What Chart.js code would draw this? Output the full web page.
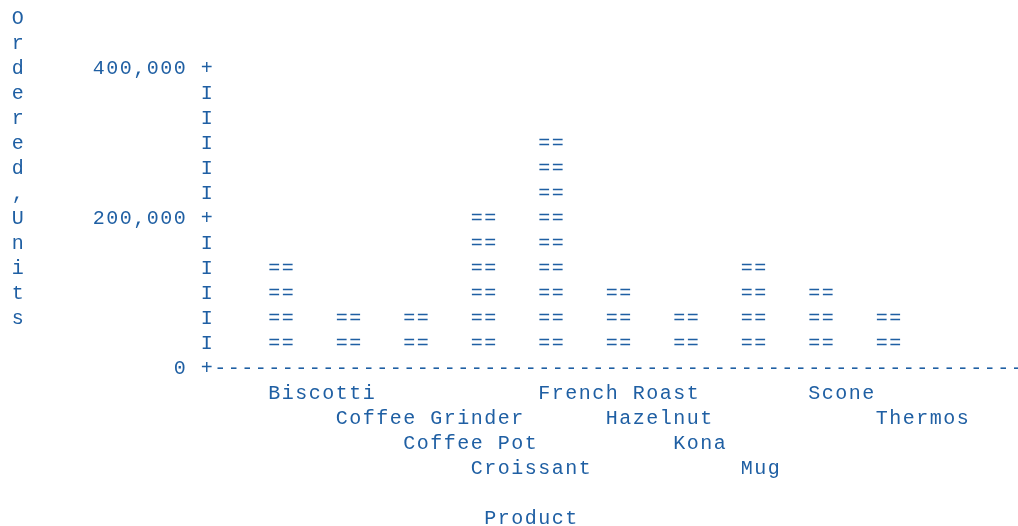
<!DOCTYPE html>
<html lang="en">
<head>
    <meta charset="UTF-8">
    <title>Ordered Units by Product</title>
    <style>
        html, body { margin: 0; padding: 0; background: #fff; }
    </style>
</head>
<body>
    <canvas id="myChart" width="1018" height="526"></canvas>

    <script src="https://cdn.jsdelivr.net/npm/chart.js"></script>
    <script>
        // data (one "==" row = 400,000 / 12)
        const v_products = ['Biscotti', 'Coffee Grinder', 'Coffee Pot', 'Croissant', 'French Roast',
                            'Hazelnut', 'Kona', 'Mug', 'Scone', 'Thermos'];
        const v_units = [130000, 66000, 64000, 198000, 297000, 101000, 67000, 132000, 99000, 65000];
        const v_yTicks = [0, 200000, 400000];
        const v_yTitle = 'Ordered,Units';
        const v_xTitle = 'Product';

        // text grid of the line-printer look
        const CW = 13.5;   // char width
        const ROW = 25;    // line height
        const X0 = 11;     // left edge of column 0
        const COLOR = '#1f5fa3';
        const FONT = '20px "Liberation Mono", "Courier New", monospace';
        const Y_MAX = 400000;
        const N_ROWS = 12;

        function f_col(c) { return X0 + c * CW; }

        // draws string char by char, left edge at x, row centre at y
        function f_text(ctx, s, x, y) {
            for (let i = 0; i < s.length; i++) {
                ctx.fillText(s[i], x + i * CW + CW / 2, y + 6.5);
            }
        }

        const asciiPlugin = {
            id: 'ascii',
            afterDatasetsDraw(chart) {
                const ctx = chart.ctx;
                const xs = chart.scales.x;
                const ys = chart.scales.y;
                ctx.save();
                ctx.fillStyle = COLOR;
                ctx.font = FONT;
                ctx.textAlign = 'center';
                ctx.textBaseline = 'alphabetic';

                const y0 = ys.getPixelForValue(0);
                const axisX = f_col(14);

                // y axis: '+' at ticks, 'I' between
                for (let k = 1; k <= N_ROWS; k++) {
                    const v = k * Y_MAX / N_ROWS;
                    const y = ys.getPixelForValue(v);
                    const isTick = v_yTicks.some(t => Math.abs(t - v) < 1);
                    f_text(ctx, isTick ? '+' : 'I', axisX, y);
                }
                v_yTicks.forEach(t => {
                    const lab = t.toLocaleString('en-US');
                    f_text(ctx, lab, f_col(13 - lab.length), ys.getPixelForValue(t));
                });

                // x axis line
                f_text(ctx, '+' + '-'.repeat(60), axisX, y0);

                // bars as stacks of '=='
                const meta = chart.getDatasetMeta(0);
                meta.data.forEach(el => {
                    const n = Math.round((el.base - el.y) / ROW);
                    for (let r = 1; r <= n; r++) {
                        f_text(ctx, '==', el.x - CW, el.base - r * ROW);
                    }
                });

                // staggered category labels
                v_products.forEach((p, i) => {
                    const x = xs.getPixelForValue(i) - CW;
                    f_text(ctx, p, x, y0 + (i % 4 + 1) * ROW);
                });

                // axis titles
                f_text(ctx, v_xTitle, f_col(35), y0 + 6 * ROW);
                const yTop = ys.getPixelForValue(Y_MAX) - 2 * ROW;
                for (let i = 0; i < v_yTitle.length; i++) {
                    f_text(ctx, v_yTitle[i], f_col(0), yTop + i * ROW);
                }
                ctx.restore();
            }
        };

        const ctx = document.querySelector('#myChart');
        const left = X0 + 17.5 * CW;
        const right = 1018 - (left + v_products.length * 5 * CW);

        new Chart(ctx, {
            type: 'bar',
            data: {
                labels: v_products,
                datasets: [{
                    label: 'Ordered Units',
                    data: v_units,
                    backgroundColor: 'rgba(0,0,0,0)',
                    borderWidth: 0
                }]
            },
            options: {
                responsive: false,
                animation: false,
                layout: {
                    padding: { left: left, right: right, top: 67, bottom: 159 }
                },
                plugins: {
                    legend: { display: false },
                    tooltip: { enabled: false }
                },
                scales: {
                    x: { display: false },
                    y: { display: false, min: 0, max: Y_MAX }
                }
            },
            plugins: [asciiPlugin]
        });
    </script>
</body>
</html>
